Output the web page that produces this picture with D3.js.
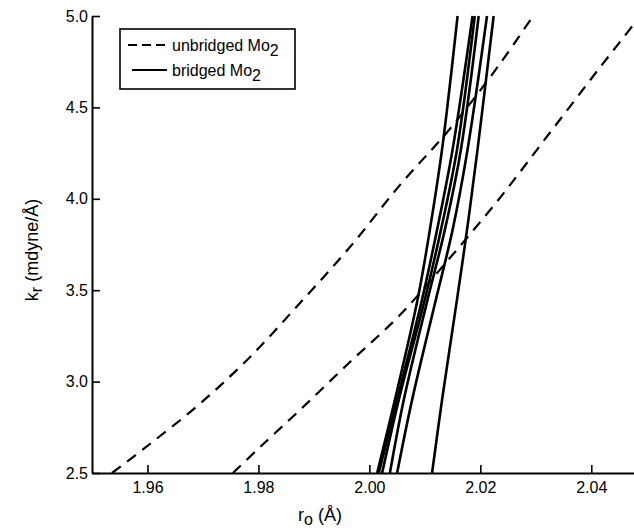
<!DOCTYPE html>
<html>
<head>
<meta charset="utf-8">
<script src="https://cdn.jsdelivr.net/npm/d3@7"></script>
<style>
  body { margin: 0; background: #fff; }
  text { font-family: "Liberation Sans", Arial, sans-serif; fill: #000; }
</style>
</head>
<body>
<svg id="chart" width="634" height="530"></svg>
<script>
// k levels at which the bridged curves were read
const kLevels = [2.5, 2.9, 3.45, 3.83, 4.27, 5.0];

// bridged Mo2 curves: r0 at each k level
const bridged = [
  [2.0014, 2.0046, 2.0087, 2.0109, 2.0131, 2.0159],
  [2.0017, 2.0050, 2.0095, 2.0122, 2.0150, 2.0186],
  [2.0023, 2.0053, 2.0100, 2.0129, 2.0158, 2.0190],
  [2.0037, 2.0062, 2.0105, 2.0136, 2.0165, 2.0197],
  [2.0050, 2.0077, 2.0120, 2.0150, 2.0177, 2.0212],
  [2.0113, 2.0131, 2.0158, 2.0176, 2.0195, 2.0224]
];

// unbridged Mo2 curves: [r0, k]
const unbridgedA = [
  [1.9536, 2.5], [1.9605, 2.66], [1.9695, 2.88], [1.9785, 3.135], [1.9875, 3.43],
  [1.9965, 3.736], [2.0055, 4.075], [2.0145, 4.382], [2.0235, 4.737], [2.0295, 5.0]
];
const unbridgedB = [
  [1.9754, 2.5], [1.9803, 2.642], [1.9875, 2.845], [1.9965, 3.107], [2.0055, 3.364],
  [2.0145, 3.676], [2.0235, 4.004], [2.0325, 4.36], [2.0415, 4.716], [2.0477, 4.956]
];

const xTicks = [1.96, 1.98, 2.00, 2.02, 2.04];
const yTicks = [2.5, 3.0, 3.5, 4.0, 4.5, 5.0];

const margin = {top: 16, right: 0, bottom: 57, left: 92};
const width = 634, height = 530;

const svg = d3.select('#chart');

const x = d3.scaleLinear()
  .domain([1.95, 2.0477])
  .range([margin.left, width - margin.right]);
const y = d3.scaleLinear()
  .domain([2.5, 5.0])
  .range([height - margin.bottom, margin.top]);

// axes, ticks pointing inward
let xAxis = svg.append('g')
  .attr('transform', 'translate(0,' + (height - margin.bottom) + ')')
  .call(d3.axisBottom(x).tickValues(xTicks).tickSize(-8).tickSizeOuter(0)
    .tickPadding(9).tickFormat(d3.format('.2f')));

let yAxis = svg.append('g')
  .attr('transform', 'translate(' + margin.left + ',0)')
  .call(d3.axisLeft(y).tickValues(yTicks).tickSize(-8).tickSizeOuter(0)
    .tickPadding(4).tickFormat(d3.format('.1f')));

[xAxis, yAxis].forEach(a => {
  a.select('.domain').attr('stroke', '#000').attr('stroke-width', 2);
  a.selectAll('.tick line').attr('stroke', '#000').attr('stroke-width', 1.6);
  a.selectAll('.tick text')
    .style('font-family', '"Liberation Sans", Arial, sans-serif')
    .style('font-size', '16px');
});

// curves
let line = d3.line()
  .x(d => x(d[0]))
  .y(d => y(d[1]))
  .curve(d3.curveCatmullRom);

svg.selectAll('.bridged')
  .data(bridged)
  .enter().append('path')
  .attr('class', 'bridged')
  .attr('fill', 'none')
  .attr('stroke', '#000')
  .attr('stroke-width', 2.6)
  .attr('d', r => line(r.map((v, i) => [v, kLevels[i]])));

svg.selectAll('.unbridged')
  .data([unbridgedA, unbridgedB])
  .enter().append('path')
  .attr('class', 'unbridged')
  .attr('fill', 'none')
  .attr('stroke', '#000')
  .attr('stroke-width', 2.2)
  .attr('stroke-dasharray', '11,8')
  .attr('d', d => line(d));

// legend
let legend = svg.append('g');
legend.append('rect')
  .attr('x', 120).attr('y', 29)
  .attr('width', 175).attr('height', 60)
  .attr('fill', '#fff')
  .attr('stroke', '#000')
  .attr('stroke-width', 1.6);
legend.append('line')
  .attr('x1', 128).attr('x2', 167).attr('y1', 45).attr('y2', 45)
  .attr('stroke', '#000').attr('stroke-width', 2)
  .attr('stroke-dasharray', '9,5');
legend.append('line')
  .attr('x1', 132).attr('x2', 167).attr('y1', 70).attr('y2', 70)
  .attr('stroke', '#000').attr('stroke-width', 2);

function moLabel(yy, word) {
  let t = legend.append('text')
    .attr('x', 172).attr('y', yy)
    .style('font-size', '16px');
  t.append('tspan').text(word + ' Mo');
  t.append('tspan').attr('dy', 5).text('2');
}
moLabel(51, 'unbridged');
moLabel(76, 'bridged');

// axis titles
let xt = svg.append('text')
  .attr('x', 320).attr('y', 521)
  .attr('text-anchor', 'middle')
  .style('font-size', '18px');
xt.append('tspan').text('r');
xt.append('tspan').attr('dy', 4).style('font-size', '16px').text('o');
xt.append('tspan').attr('dy', -4).text(' (Å)');

let yt = svg.append('text')
  .attr('transform', 'translate(38,250) rotate(-90)')
  .attr('text-anchor', 'middle')
  .style('font-size', '18px');
yt.append('tspan').text('k');
yt.append('tspan').attr('dy', 4).style('font-size', '16px').text('r');
yt.append('tspan').attr('dy', -4).text(' (mdyne/Å)');
</script>
</body>
</html>
